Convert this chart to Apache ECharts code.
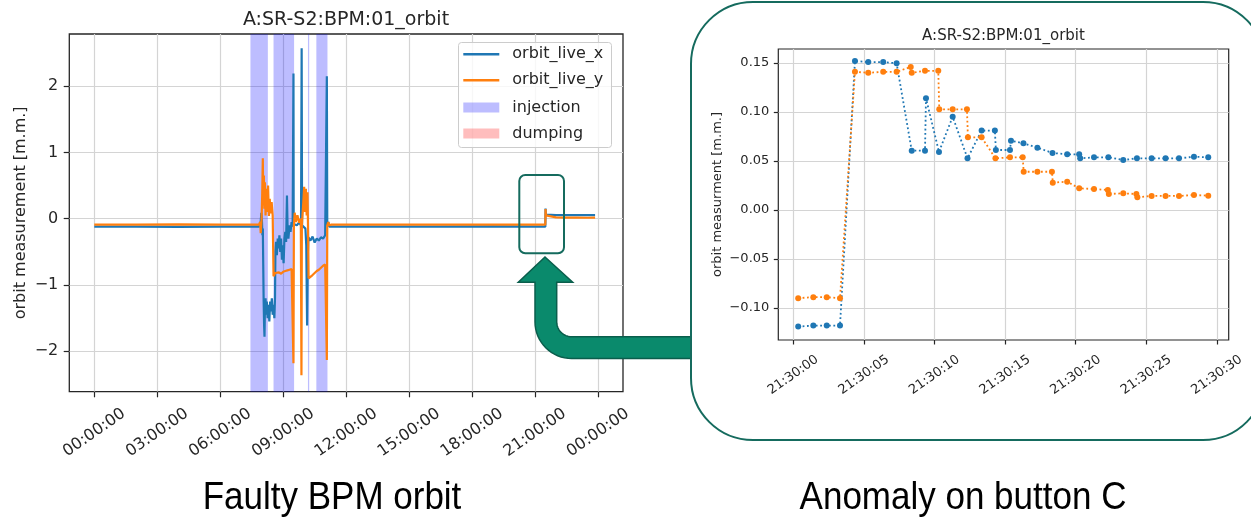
<!DOCTYPE html>
<html><head><meta charset="utf-8">
<script src="https://cdn.jsdelivr.net/npm/echarts@6/dist/echarts.min.js"></script>
<style>html,body{margin:0;padding:0;background:#fff}#c{width:1251px;height:520px}</style>
</head><body><div id="c"></div>
<script>
// ---------- data ----------
const leftTitle = 'A:SR-S2:BPM:01_orbit';
const rightTitle = 'A:SR-S2:BPM:01_orbit';
const leftXTicks = [0, 3, 6, 9, 12, 15, 18, 21, 24];          // hours
const leftYTicks = [-2, -1, 0, 1, 2];
const rightXTicks = [0, 5, 10, 15, 20, 25, 30];              // seconds after 21:30:00
const rightYTicks = [-0.10, -0.05, 0.00, 0.05, 0.10, 0.15];
const injectionBands = [[7.44, 8.27], [8.54, 9.52], [10.18, 10.24], [10.58, 11.11]];
const dumpingBands = [];

// orbit_live_x over the day: [hour, value]
const liveX = [
 [0.00,-0.12],[2.0,-0.12],[4.0,-0.125],[6.0,-0.12],[7.85,-0.12],[7.92,-0.08],[7.96,0.09],[7.99,-0.05],
 [8.01,-0.25],[8.03,-0.15],[8.05,-0.7],[8.07,-1.25],[8.09,-1.6],[8.11,-1.78],[8.13,-1.35],[8.16,-1.2],
 [8.19,-1.45],[8.22,-1.25],[8.26,-1.5],[8.30,-1.3],[8.34,-1.55],[8.38,-1.25],[8.42,-1.4],[8.46,-1.2],
 [8.50,-1.45],[8.54,-1.3],[8.58,-1.5],[8.61,-1.2],[8.63,-0.5],[8.66,-0.35],[8.70,-0.55],[8.74,-0.3],
 [8.78,-0.45],[8.82,-0.25],[8.86,-0.5],[8.90,-0.3],[8.94,-0.62],[8.98,-0.4],[9.02,-0.67],[9.06,-0.3],
 [9.10,-0.2],[9.14,-0.35],[9.18,0.35],[9.21,-0.15],[9.25,-0.3],[9.30,-0.1],[9.35,-0.2],[9.40,-0.05],
 [9.45,-0.12],[9.48,-0.1],[9.49,2.19],[9.50,-0.08],[9.55,-0.05],[9.65,-0.1],[9.75,-0.06],[9.85,-0.1],
 [9.88,2.57],[9.90,-0.1],[9.98,-0.08],[10.06,-0.15],[10.10,-0.4],[10.14,-1.61],[10.17,-0.6],[10.20,-0.28],
 [10.30,-0.33],[10.40,-0.27],[10.50,-0.36],[10.60,-0.3],[10.70,-0.33],[10.80,-0.28],[10.90,-0.3],[11.00,-0.25],
 [11.06,-0.28],[11.08,2.15],[11.10,-0.1],[11.15,-0.05],[11.20,-0.12],[13.0,-0.12],[16.0,-0.12],[19.0,-0.115],
 [21.49,-0.12],[21.50,0.152],[21.52,0.06],[21.60,0.058],[22.0,0.055],[22.5,0.053],[23.0,0.054],[23.5,0.053],[23.86,0.054]
];
// orbit_live_y over the day: [hour, value]
const liveY = [
 [0.00,-0.09],[2.0,-0.09],[4.0,-0.085],[6.0,-0.09],[7.85,-0.09],[7.90,-0.05],[7.93,-0.22],[7.97,-0.02],
 [8.00,0.35],[8.03,0.91],[8.05,0.2],[8.08,0.65],[8.10,0.15],[8.13,0.55],[8.16,0.05],[8.20,0.45],
 [8.24,0.1],[8.28,0.5],[8.32,0.04],[8.36,0.3],[8.40,0.08],[8.45,0.25],[8.50,0.05],[8.52,-0.4],
 [8.54,-0.87],[8.62,-0.82],[8.70,-0.85],[8.80,-0.81],[8.90,-0.83],[9.00,-0.8],[9.10,-0.79],[9.20,-0.78],
 [9.30,-0.77],[9.40,-0.76],[9.47,-0.75],[9.49,-2.18],[9.51,-0.1],[9.55,0.09],[9.60,-0.05],[9.68,0.05],
 [9.76,-0.06],[9.84,0.0],[9.87,-2.36],[9.89,-0.1],[9.95,0.2],[10.00,0.48],[10.04,0.1],[10.08,0.45],
 [10.12,0.05],[10.16,0.4],[10.19,-0.3],[10.21,-0.9],[10.30,-0.88],[10.40,-0.85],[10.50,-0.82],[10.60,-0.79],
 [10.70,-0.77],[10.80,-0.74],[10.90,-0.71],[11.00,-0.69],[11.06,-0.67],[11.08,-2.13],[11.10,-0.1],[11.15,-0.05],
 [11.20,-0.1],[11.30,-0.09],[13.0,-0.09],[16.0,-0.09],[19.0,-0.088],[21.49,-0.09],[21.50,0.146],[21.52,0.05],
 [21.60,0.03],[22.0,0.02],[22.5,0.016],[23.0,0.015],[23.5,0.014],[23.86,0.015]
];
// zoom on 21:30:00 .. 21:30:30 : [seconds, value]
const zoomX = [
 [0.35,-0.119],[1.42,-0.118],[2.37,-0.118],[3.31,-0.118],[4.37,0.152],[5.31,0.151],[6.37,0.151],[7.32,0.1497],
 [8.39,0.0605],[9.33,0.0605],[9.40,0.114],[10.32,0.0592],[11.29,0.0952],[12.34,0.0527],[13.34,0.081],[14.28,0.081],
 [14.35,0.0612],[15.35,0.0612],[15.42,0.0707],[16.30,0.068],[17.29,0.0636],[18.36,0.0582],[19.40,0.0568],[20.25,0.0568],
 [20.32,0.0527],[21.30,0.0537],[22.32,0.0537],[23.37,0.051],[24.34,0.0527],[25.38,0.0527],[26.37,0.0527],[27.32,0.0527],
 [28.38,0.0544],[29.39,0.0537]
];
const zoomY = [
 [0.35,-0.090],[1.42,-0.089],[2.37,-0.089],[3.31,-0.090],[4.37,0.141],[5.31,0.140],[6.37,0.141],[7.32,0.141],
 [8.32,0.146],[8.39,0.140],[9.33,0.142],[10.27,0.142],[10.34,0.1027],[11.29,0.1027],[12.30,0.1027],[12.37,0.0742],
 [13.34,0.0742],[14.32,0.0527],[15.35,0.0537],[16.25,0.0537],[16.32,0.039],[17.29,0.039],[18.32,0.039],[18.38,0.0279],
 [19.40,0.0289],[20.25,0.0221],[21.30,0.0214],[22.28,0.0204],[22.35,0.0163],[23.37,0.017],[24.30,0.0163],[24.37,0.013],
 [25.38,0.0143],[26.37,0.0143],[27.32,0.0143],[28.38,0.0153],[29.39,0.0146]
];
const captionLeft = 'Faulty BPM orbit';
const captionRight = 'Anomaly on button C';

// ---------- styles ----------
const FONT = 'DejaVu Sans';
const TXT = '#262626';
const GRIDC = '#d4d4d4';
const BLUE = '#1f77b4', ORANGE = '#ff7f0e';
const pad2 = n => String(n).padStart(2, '0');
const minus = s => s.replace('-', '\u2212');

function axisBase(ticks, fs, tickLen, margin) {
  return {
    axisLine: {show: false, onZero: false},
    axisTick: {show: true, length: tickLen, customValues: ticks, lineStyle: {color: TXT, width: 1.2}},
    axisLabel: {customValues: ticks, fontSize: fs, color: TXT, fontFamily: FONT, margin: margin},
    splitLine: {show: true, lineStyle: {color: GRIDC, width: 1.2}}
  };
}

const lx = axisBase(leftXTicks, 16, 5.6, 41);
Object.assign(lx, {type: 'value', gridIndex: 0, position: 'bottom', min: -1.19, max: 25.19});
Object.assign(lx.axisLabel, {rotate: 35, align: 'center', verticalAlign: 'middle',
  formatter: v => pad2(Math.round(v) % 24) + ':00:00'});

const ly = axisBase(leftYTicks, 16, 5.6, 11);
Object.assign(ly, {type: 'value', gridIndex: 0, position: 'left', min: -2.61, max: 2.786,
  name: 'orbit measurement [m.m.]', nameLocation: 'middle', nameRotate: 90, nameGap: 40,
  nameTextStyle: {fontSize: 16, color: TXT, fontFamily: FONT}});
ly.axisLabel.formatter = v => minus(String(Math.round(v)));

const rx = axisBase(rightXTicks, 13, 4.5, 35);
Object.assign(rx, {type: 'value', gridIndex: 1, position: 'bottom', min: -1.06, max: 30.84});
Object.assign(rx.axisLabel, {rotate: 35, align: 'center', verticalAlign: 'middle',
  formatter: v => '21:30:' + pad2(Math.round(v))});

const ry = axisBase(rightYTicks, 13, 4.5, 9);
Object.assign(ry, {type: 'value', gridIndex: 1, position: 'left', min: -0.1327, max: 0.1643,
  name: 'orbit measurment [m.m.]', nameLocation: 'middle', nameRotate: 90, nameGap: 54,
  nameTextStyle: {fontSize: 13, color: TXT, fontFamily: FONT}});
ry.axisLabel.formatter = v => minus(v.toFixed(2));

// ---------- arrow outline (decoration geometry) ----------
function arcPts(cx, cy, r, a0, a1, n) {
  const pts = [];
  for (let i = 0; i <= n; i++) {
    const a = a0 + (a1 - a0) * i / n;
    pts.push([cx + r * Math.cos(a), cy + r * Math.sin(a)]);
  }
  return pts;
}
const AC = [571.7, 321.8];
const arrowPts = [].concat(
  [[545, 257], [572.7, 282.3], [556.7, 282.3]],
  arcPts(AC[0], AC[1], 15, Math.PI, Math.PI / 2, 12),
  [[691, 336.8], [691, 358.5]],
  arcPts(AC[0], AC[1], 36.7, Math.PI / 2, Math.PI, 16),
  [[535, 282.3], [518.3, 282.3]]
);

const chart = echarts.init(document.getElementById('c'), null, {renderer: 'canvas'});
const TEAL_DARK = '#156b5e';

chart.setOption({
  animation: false,
  textStyle: {fontFamily: FONT},
  grid: [
    {left: 69.3, top: 34, width: 553.7, height: 357.7, show: true, borderColor: TXT, borderWidth: 1.3, backgroundColor: 'transparent'},
    {left: 778.3, top: 49, width: 450.4, height: 291, show: true, borderColor: TXT, borderWidth: 1.2, backgroundColor: 'transparent'}
  ],
  xAxis: [lx, rx],
  yAxis: [ly, ry],
  legend: [
    {data: [{name: 'orbit_live_x', icon: 'rect'}, {name: 'orbit_live_y', icon: 'rect'}],
     orient: 'vertical', left: 463.3, top: 46.3, padding: 0, itemWidth: 36, itemHeight: 2.5, itemGap: 10,
     selectedMode: false, itemStyle: {borderWidth: 0}, z: 6,
     textStyle: {fontSize: 16, color: TXT, fontFamily: FONT, padding: [0, 0, 0, 8]}},
    {data: [{name: 'injection', icon: 'rect'}, {name: 'dumping', icon: 'rect'}],
     orient: 'vertical', left: 463.3, top: 99.5, padding: 0, itemWidth: 36, itemHeight: 10, itemGap: 10,
     selectedMode: false, itemStyle: {borderWidth: 0}, z: 6,
     textStyle: {fontSize: 16, color: TXT, fontFamily: FONT, padding: [0, 0, 0, 8]}}
  ],
  series: [
    {name: 'injection', type: 'line', xAxisIndex: 0, yAxisIndex: 0, data: [], symbol: 'none',
     itemStyle: {color: 'rgba(0,0,255,0.26)'}, lineStyle: {width: 0},
     markArea: {silent: true, itemStyle: {color: 'rgba(0,0,255,0.26)'},
       data: injectionBands.map(b => [{xAxis: b[0]}, {xAxis: b[1]}])}},
    {name: 'dumping', type: 'line', xAxisIndex: 0, yAxisIndex: 0, data: [], symbol: 'none',
     itemStyle: {color: 'rgba(255,0,0,0.26)'}, lineStyle: {width: 0},
     markArea: {silent: true, itemStyle: {color: 'rgba(255,0,0,0.26)'},
       data: dumpingBands.map(b => [{xAxis: b[0]}, {xAxis: b[1]}])}},
    {name: 'orbit_live_x', type: 'line', xAxisIndex: 0, yAxisIndex: 0, data: liveX, symbol: 'none', showSymbol: false,
     itemStyle: {color: BLUE}, lineStyle: {color: BLUE, width: 2.2}, z: 3},
    {name: 'orbit_live_y', type: 'line', xAxisIndex: 0, yAxisIndex: 0, data: liveY, symbol: 'none', showSymbol: false,
     itemStyle: {color: ORANGE}, lineStyle: {color: ORANGE, width: 2.2}, z: 3},
    {name: 'zoom_x', type: 'line', xAxisIndex: 1, yAxisIndex: 1, data: zoomX, symbol: 'circle', symbolSize: 6, showSymbol: true,
     itemStyle: {color: BLUE}, lineStyle: {color: BLUE, width: 1.8, type: [1.8, 2.6]}, z: 3},
    {name: 'zoom_y', type: 'line', xAxisIndex: 1, yAxisIndex: 1, data: zoomY, symbol: 'circle', symbolSize: 6, showSymbol: true,
     itemStyle: {color: ORANGE}, lineStyle: {color: ORANGE, width: 1.8, type: [1.8, 2.6]}, z: 3}
  ],
  graphic: [
    {type: 'rect', z: 5, silent: true, shape: {x: 458.5, y: 42.5, width: 153, height: 105, r: 3},
     style: {fill: 'rgba(255,255,255,0.8)', stroke: '#cccccc', lineWidth: 1}},
    {type: 'text', z: 10, silent: true, x: 346, y: 20,
     style: {text: leftTitle, fill: TXT, font: '19px "DejaVu Sans"', align: 'center', verticalAlign: 'middle'}},
    {type: 'text', z: 10, silent: true, x: 1003.5, y: 36,
     style: {text: rightTitle, fill: TXT, font: '15px "DejaVu Sans"', align: 'center', verticalAlign: 'middle'}},
    {type: 'polygon', z: 10, silent: true, shape: {points: arrowPts},
     style: {fill: '#0a8a6c', stroke: '#0a5e4c', lineWidth: 1.5}},
    {type: 'rect', z: 10, silent: true, shape: {x: 519.3, y: 175, width: 44.7, height: 78.3, r: 6},
     style: {fill: 'none', stroke: TEAL_DARK, lineWidth: 2}},
    {type: 'rect', z: 11, silent: true, shape: {x: 691, y: 2, width: 574, height: 438, r: 62},
     style: {fill: 'none', stroke: TEAL_DARK, lineWidth: 2}},
    {type: 'text', z: 10, silent: true, x: 332, y: 498, scaleY: 1.1,
     style: {text: captionLeft, fill: '#000', font: '35px "Liberation Sans"', align: 'center', verticalAlign: 'middle'}},
    {type: 'text', z: 10, silent: true, x: 963, y: 498, scaleY: 1.1,
     style: {text: captionRight, fill: '#000', font: '35px "Liberation Sans"', align: 'center', verticalAlign: 'middle'}}
  ]
});
</script></body></html>
